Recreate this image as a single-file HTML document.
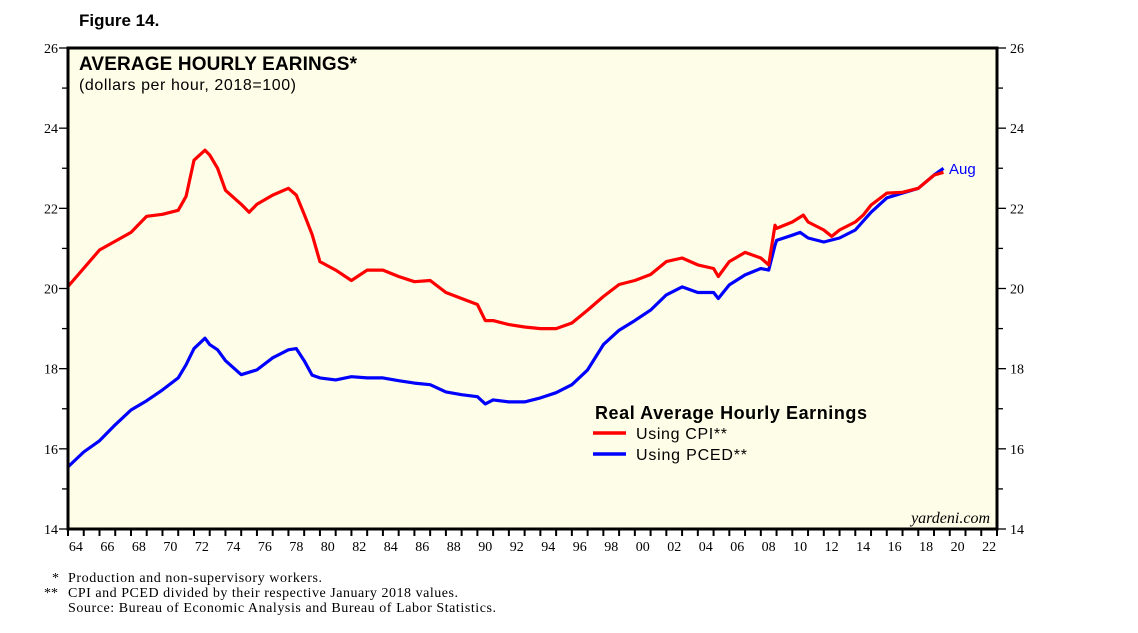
<!DOCTYPE html>
<html><head><meta charset="utf-8"><style>
body{margin:0;background:#fff;width:1138px;height:628px;overflow:hidden}
svg text{font-family:"Liberation Serif",serif}
</style></head><body>
<svg width="1138" height="628">
<text x="79" y="26" font-weight="bold" font-size="17" style="font-family:'Liberation Sans',sans-serif">Figure 14.</text>
<rect x="68" y="48" width="929" height="481" fill="#fefee8"/>
<g id="axes"></g>
<g id="series"></g>
<rect x="68" y="48" width="929" height="481" fill="none" stroke="#000" stroke-width="3"/>
<text x="79" y="70" font-weight="bold" font-size="19" textLength="278" style="font-family:'Liberation Sans',sans-serif">AVERAGE HOURLY EARINGS*</text>
<text x="79" y="90" font-size="16" textLength="217" style="font-family:'Liberation Sans',sans-serif">(dollars per hour, 2018=100)</text>
<g>
<text x="595" y="419" font-weight="bold" font-size="18" textLength="272" style="font-family:'Liberation Sans',sans-serif">Real Average Hourly Earnings</text>
<line x1="593" y1="433" x2="626" y2="433" stroke="#f00" stroke-width="3.5"/>
<text x="636" y="439" font-size="16" textLength="91" style="font-family:'Liberation Sans',sans-serif">Using CPI**</text>
<line x1="593" y1="454" x2="626" y2="454" stroke="#00f" stroke-width="3.5"/>
<text x="636" y="460" font-size="16" textLength="111" style="font-family:'Liberation Sans',sans-serif">Using PCED**</text>
</g>
<text x="949" y="174" fill="#00f" font-size="15" style="font-family:'Liberation Sans',sans-serif">Aug</text>
<text x="990" y="523" text-anchor="end" font-style="italic" font-size="16">yardeni.com</text>
<g font-size="14">
<text x="52" y="582">*</text><text x="68" y="582" textLength="254">Production and non-supervisory workers.</text>
<text x="44" y="597">**</text><text x="68" y="597" textLength="390">CPI and PCED divided by their respective January 2018 values.</text>
<text x="68" y="612" textLength="428">Source: Bureau of Economic Analysis and Bureau of Labor Statistics.</text>
</g>
</svg>
<script>
const cpiYears=[1964,1966,1968,1969,1970,1971,1971.5,1972,1972.7,1973,1973.5,1974,1975,1975.5,1976,1977,1978,1978.5,1979,1979.5,1980,1981,1982,1983,1984,1985,1986,1987,1988,1989,1990,1990.5,1991,1992,1993,1994,1995,1996,1997,1998,1999,2000,2001,2002,2003,2004,2005,2005.3,2006,2007,2008,2008.5,2008.9,2009,2010,2010.7,2011,2012,2012.5,2013,2014,2014.5,2015,2016,2017,2018,2019,2019.6];
const cpiValues=[20.05,20.96,21.4,21.8,21.85,21.95,22.3,23.2,23.45,23.33,23,22.45,22.1,21.9,22.1,22.33,22.5,22.33,21.85,21.35,20.67,20.46,20.2,20.46,20.46,20.3,20.17,20.2,19.9,19.75,19.6,19.2,19.2,19.1,19.04,19.0,19.0,19.14,19.46,19.8,20.1,20.2,20.35,20.67,20.76,20.59,20.5,20.3,20.67,20.9,20.76,20.59,21.58,21.5,21.66,21.83,21.66,21.46,21.3,21.46,21.66,21.83,22.08,22.38,22.4,22.5,22.83,22.9];
const pcedYears=[1964,1965,1966,1967,1968,1969,1970,1971,1971.5,1972,1972.7,1973,1973.5,1974,1975,1976,1977,1978,1978.5,1979,1979.5,1980,1981,1982,1983,1984,1985,1986,1987,1988,1989,1990,1990.5,1991,1992,1993,1994,1995,1996,1997,1998,1999,2000,2001,2002,2003,2004,2005,2005.3,2006,2007,2008,2008.5,2008.9,2009,2010,2010.5,2011,2012,2013,2014,2015,2016,2017,2018,2019,2019.6];
const pcedValues=[15.55,15.92,16.2,16.6,16.97,17.2,17.47,17.77,18.1,18.5,18.76,18.6,18.47,18.2,17.85,17.97,18.27,18.47,18.5,18.2,17.84,17.77,17.72,17.8,17.77,17.77,17.7,17.64,17.6,17.42,17.35,17.3,17.12,17.22,17.17,17.17,17.27,17.4,17.6,17.97,18.6,18.96,19.2,19.46,19.84,20.04,19.9,19.9,19.75,20.09,20.34,20.5,20.46,21.08,21.2,21.33,21.4,21.26,21.16,21.26,21.46,21.9,22.26,22.38,22.5,22.83,23.0];
const yTicks=[14,16,18,20,22,24,26];
const xTickLabels=["64","66","68","70","72","74","76","78","80","82","84","86","88","90","92","94","96","98","00","02","04","06","08","10","12","14","16","18","20","22"];
const NS="http://www.w3.org/2000/svg";
const X0=68,X1=997,Y0=529,Y1=48;
const xs=y=>X0+(y-1964)/(2023-1964)*(X1-X0);
const ys=v=>Y0-(v-14)/(26-14)*(Y0-Y1);
const axes=document.getElementById('axes'),series=document.getElementById('series');
function mk(tag,attrs,parent){const e=document.createElementNS(NS,tag);for(const k in attrs)e.setAttribute(k,attrs[k]);parent.appendChild(e);return e;}
for(let v=14;v<=26;v++){
  const y=ys(v);const len=v%2===0?9:6;
  const l=mk('line',{x1:X0-len,y1:y,x2:X0,y2:y,stroke:'#000','stroke-width':1.3},axes);
  
  
  const r=mk('line',{x1:X1,y1:y,x2:X1+len,y2:y,stroke:'#000','stroke-width':1.3},axes);
  
  
}
yTicks.forEach(v=>{
  const t=mk('text',{x:X0-10,y:ys(v)+5,'text-anchor':'end','font-size':14},axes);t.textContent=v;
  
  
  const t2=mk('text',{x:X1+13,y:ys(v)+5,'font-size':14},axes);t2.textContent=v;
  
  
});
for(let yr=1964;yr<=2023;yr++){
  const t=mk('line',{x1:xs(yr),y1:Y0,x2:xs(yr),y2:Y0+7,stroke:'#000','stroke-width':2},axes);
  
  
}
xTickLabels.forEach((s,i)=>{
  const t=mk('text',{x:xs(1964+2*i+0.5),y:551,'text-anchor':'middle','font-size':14},axes);t.textContent=s;
  
  
});
function line(xa,va,color,name){
  const d=xa.map((x,i)=>(i?'L':'M')+xs(x).toFixed(1)+','+ys(va[i]).toFixed(1)).join('');
  const p=mk('path',{d:d,fill:'none',stroke:color,'stroke-width':3.2,'stroke-linejoin':'round'},series);
  
  
}
line(pcedYears,pcedValues,'#00f','pced-line');
line(cpiYears,cpiValues,'#f00','cpi-line');
</script>
</body></html>
